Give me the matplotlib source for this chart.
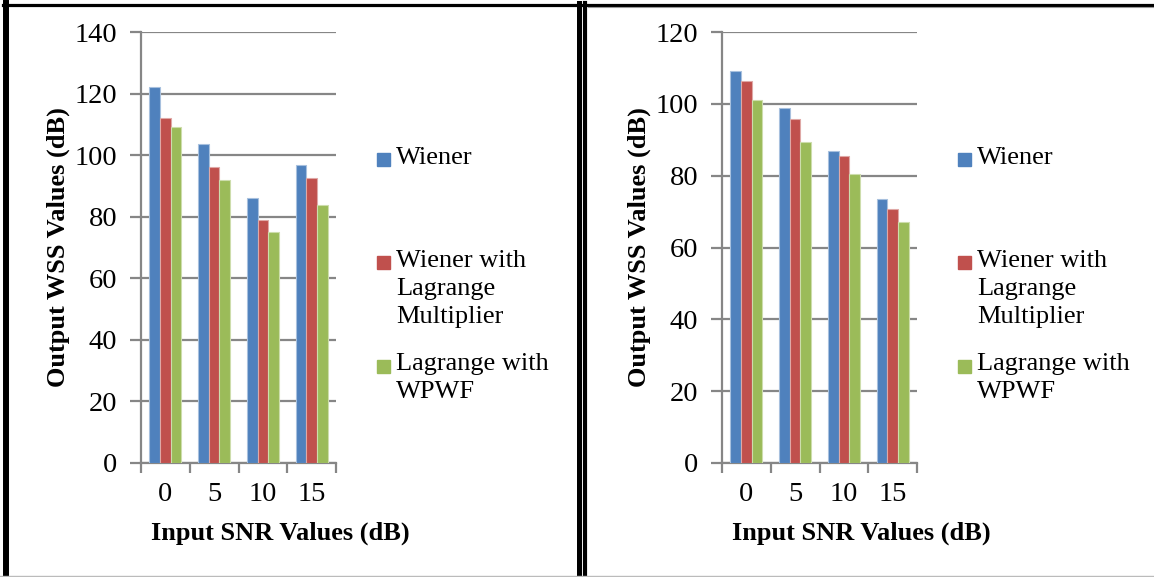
import numpy as np
import matplotlib.pyplot as plt
from matplotlib.patches import Rectangle
from matplotlib.lines import Line2D

plt.rcParams['font.family'] = ['Liberation Serif', 'DejaVu Serif']

snr_labels = ["0", "5", "10", "15"]
series_names = ["Wiener", "Wiener with\nLagrange\nMultiplier", "Lagrange with\nWPWF"]
colors = ["#4F81BD", "#C0504D", "#9BBB59"]
edges = ["#A7C0DE", "#DFA8A6", "#CDDDAC"]

# left chart values
left_wiener = [122, 103.5, 86, 96.7]
left_lagmult = [112.2, 96.3, 78.8, 92.7]
left_wpwf = [109, 91.8, 75, 83.8]

# right chart values
right_wiener = [109.2, 98.9, 87.0, 73.6]
right_lagmult = [106.3, 95.8, 85.4, 70.8]
right_wpwf = [101.0, 89.4, 80.4, 67.1]

W, H = 1154, 577
fig = plt.figure(figsize=(W / 100, H / 100), dpi=100)
grid_col = "#868686"
fs = 20.5
lfs = 19


def draw_panel(x0, series, ymax):
    ax = fig.add_axes([x0 / W, (H - 463) / H, 195 / W, 431 / H])
    x = np.arange(len(snr_labels))
    bw = 0.22
    for i, vals in enumerate(series):
        ax.bar(x + (i - 1) * bw, vals, bw, color=colors[i], edgecolor=edges[i],
               linewidth=0.8, zorder=3)
    ax.set_xlim(-0.5, len(snr_labels) - 0.5)
    ax.set_ylim(0, ymax)
    ax.set_yticks(np.arange(0, ymax + 1, 20))
    ax.grid(axis='y', color=grid_col, linewidth=1.6, zorder=0)
    ax.set_xticks(np.arange(len(snr_labels) + 1) - 0.5)
    ax.set_xticklabels([])
    ax.set_xticks(x, minor=True)
    ax.set_xticklabels(snr_labels, minor=True, fontsize=fs)
    ax.tick_params(axis='x', which='major', length=7, width=1.6, color=grid_col)
    ax.tick_params(axis='x', which='minor', length=0, pad=14)
    ax.tick_params(axis='y', length=8, width=1.6, color=grid_col, labelsize=fs, pad=9)
    for s in ['top', 'right']:
        ax.spines[s].set_visible(False)
    for s in ['left', 'bottom']:
        ax.spines[s].set_color(grid_col)
        ax.spines[s].set_linewidth(1.6)
    ax.set_xlabel("Input SNR Values (dB)", fontsize=19, fontweight='bold', labelpad=12)
    ax.xaxis.set_label_coords(0.715, -0.135)
    ax.set_ylabel("Output WSS Values (dB)", fontsize=19, fontweight='bold', labelpad=3.5)

    # legend, excel style: marker aligned with first text line
    lx = x0 + 236
    for i, (name, ly) in enumerate(zip(series_names, [159.5, 263, 366])):
        fig.patches.append(Rectangle((lx / W, (H - ly - 6.5) / H), 13 / W, 13 / H,
                                     transform=fig.transFigure, color=colors[i]))
        fig.text((lx + 19) / W, (H - ly + 13) / H, name, fontsize=lfs, va='top',
                 ha='left', linespacing=1.35, transform=fig.transFigure)
    return ax


draw_panel(141, [left_wiener, left_lagmult, left_wpwf], 140)
draw_panel(722, [right_wiener, right_lagmult, right_wpwf], 120)


# panel frames
def hline(x1, x2, y, lw, c='black'):
    fig.lines.append(Line2D([x1 / W, x2 / W], [(H - y) / H] * 2, transform=fig.transFigure,
                            color=c, linewidth=lw))


def vline(x, y1, y2, lw, c='black'):
    fig.lines.append(Line2D([x / W] * 2, [(H - y1) / H, (H - y2) / H], transform=fig.transFigure,
                            color=c, linewidth=lw))


hline(3, 1154, 4.5, 2.3)
hline(588, 1154, 6.5, 0.8, '#999999')
vline(6, 3, 577, 4.3)
vline(578.5, 3, 577, 3.6)
vline(585, 3, 577, 3.0)
hline(0, 1154, 576, 1.0, '#bbbbbb')

fig.savefig("out.png", dpi=100)
